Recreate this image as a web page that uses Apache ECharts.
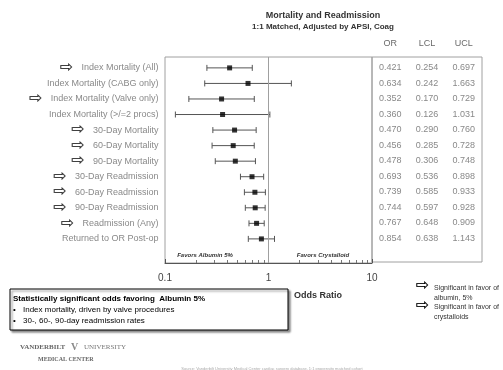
<!DOCTYPE html>
<html>
<head>
<meta charset="utf-8">
<script src="https://cdn.jsdelivr.net/npm/echarts@6/dist/echarts.min.js"></script>
<style>
  html, body { margin: 0; padding: 0; background: #fff; }
  #chart { width: 503px; height: 370px; }
</style>
</head>
<body>
<div id="chart"></div>
<script>
// rows of the forest plot, top to bottom
const rowLabels = [
  'Index Mortality (All)',
  'Index Mortality (CABG only)',
  'Index Mortality (Valve only)',
  'Index Mortality (>/=2 procs)',
  '30-Day Mortality',
  '60-Day Mortality',
  '90-Day Mortality',
  '30-Day Readmission',
  '60-Day Readmission',
  '90-Day Readmission',
  'Readmission (Any)',
  'Returned to OR Post-op'
]
// rows marked with the hollow arrow (significant)
const arrowRows = [true, false, true, false, true, true, true, true, true, true, true, false]

const orValues = [0.421, 0.634, 0.352, 0.360, 0.470, 0.456, 0.478, 0.693, 0.739, 0.744, 0.767, 0.854]
const lclValues = [0.254, 0.242, 0.170, 0.126, 0.290, 0.285, 0.306, 0.536, 0.585, 0.597, 0.648, 0.638]
const uclValues = [0.697, 1.663, 0.729, 1.031, 0.760, 0.728, 0.748, 0.898, 0.933, 0.928, 0.909, 1.143]

const tableColumns = ['OR', 'LCL', 'UCL']
const refValue = 1

const ARROW = '\u21E8'
const grayText = '#6a6a6a'
const sans = 'Liberation Sans'

const chart = echarts.init(document.getElementById('chart'))

// y range shared by plot and table so rows line up
const yRange = { min: -0.7, max: 12.55 }

//表格数据 [col, row, value]
const tableData = []
rowLabels.forEach((_, i) => {
  tableData.push([0, i, orValues[i]])
  tableData.push([1, i, lclValues[i]])
  tableData.push([2, i, uclValues[i]])
})

const arrowStyle = { font: '16px DejaVu Sans', fill: '#000', stroke: '#000', lineWidth: 0.2, verticalAlign: 'middle' }

const option = {
  animation: false,
  backgroundColor: '#fff',
  grid: [
    { left: 165, top: 57, width: 207, height: 206, show: true, borderColor: '#a0a0a0', borderWidth: 1 },
    { left: 372, top: 57, width: 110, height: 205, show: true, borderColor: '#a0a0a0', borderWidth: 1 }
  ],
  xAxis: [
    {
      type: 'log',
      logBase: 10,
      min: 0.1,
      max: 10,
      gridIndex: 0,
      axisLine: { onZero: false, lineStyle: { color: '#555' } },
      axisTick: { show: true, inside: true, length: 4, lineStyle: { color: '#555' } },
      minorTick: { show: true, splitNumber: 9, length: 3, lineStyle: { color: '#777' } },
      splitLine: { show: false },
      axisLabel: { color: '#444', fontSize: 10, margin: 10, fontFamily: sans }
    },
    {
      type: 'category',
      gridIndex: 1,
      position: 'top',
      data: tableColumns,
      axisLine: { show: false },
      axisTick: { show: false },
      axisLabel: { color: grayText, fontSize: 9, margin: 9, fontFamily: sans }
    }
  ],
  yAxis: [
    { type: 'value', gridIndex: 0, inverse: true, ...yRange, show: false },
    { type: 'value', gridIndex: 1, inverse: true, ...yRange, show: false }
  ],
  series: [
    // row labels, placed at the left edge of the plot
    {
      type: 'scatter',
      xAxisIndex: 0,
      yAxisIndex: 0,
      symbolSize: 1,
      itemStyle: { color: 'transparent' },
      silent: true,
      data: rowLabels.map((_, i) => [0.1, i]),
      label: {
        show: true,
        position: 'left',
        distance: 6,
        formatter: p => {
          const i = p.dataIndex
          const txt = rowLabels[i].replace(/[{}|]/g, '')
          return arrowRows[i] ? `{arr|${ARROW}}{txt|${txt}}` : `{txt|${txt}}`
        },
        rich: {
          arr: { fontSize: 16, color: '#000', textBorderColor: '#000', textBorderWidth: 0.2, fontFamily: 'DejaVu Sans', padding: [0, 8, 0, 0] },
          txt: { fontSize: 9, color: grayText, fontFamily: sans }
        }
      }
    },
    // confidence interval bars
    {
      type: 'custom',
      xAxisIndex: 0,
      yAxisIndex: 0,
      silent: true,
      data: rowLabels.map((_, i) => [i, lclValues[i], uclValues[i]]),
      encode: { x: [1, 2], y: 0 },
      renderItem: (params, api) => {
        const lo = api.coord([api.value(1), api.value(0)])
        const hi = api.coord([api.value(2), api.value(0)])
        const cap = 3
        const style = { stroke: '#555', lineWidth: 1 }
        return {
          type: 'group',
          children: [
            { type: 'line', shape: { x1: lo[0], y1: lo[1], x2: hi[0], y2: hi[1] }, style },
            { type: 'line', shape: { x1: lo[0], y1: lo[1] - cap, x2: lo[0], y2: lo[1] + cap }, style },
            { type: 'line', shape: { x1: hi[0], y1: hi[1] - cap, x2: hi[0], y2: hi[1] + cap }, style }
          ]
        }
      }
    },
    // odds ratio markers
    {
      type: 'scatter',
      xAxisIndex: 0,
      yAxisIndex: 0,
      symbol: 'rect',
      symbolSize: 5,
      itemStyle: { color: '#000' },
      z: 5,
      data: rowLabels.map((_, i) => [orValues[i], i]),
      markLine: {
        silent: true,
        symbol: 'none',
        label: { show: false },
        lineStyle: { color: '#a0a0a0', type: 'solid', width: 1 },
        data: [{ xAxis: refValue }]
      }
    },
    // table values
    {
      type: 'scatter',
      xAxisIndex: 1,
      yAxisIndex: 1,
      symbolSize: 1,
      itemStyle: { color: 'transparent' },
      silent: true,
      data: tableData,
      label: {
        show: true,
        position: 'inside',
        color: grayText,
        fontSize: 9,
        fontFamily: sans,
        formatter: p => p.value[2].toFixed(3)
      }
    }
  ],
  graphic: [
    { type: 'text', x: 323, y: 16, style: { text: 'Mortality and Readmission', align: 'center', verticalAlign: 'middle', font: 'bold 9px Liberation Sans', fill: '#333' } },
    { type: 'text', x: 323, y: 27, style: { text: '1:1 Matched, Adjusted by APSI, Coag', align: 'center', verticalAlign: 'middle', font: 'bold 8px Liberation Sans', fill: '#333' } },
    { type: 'text', x: 205, y: 255, style: { text: 'Favors Albumin 5%', align: 'center', verticalAlign: 'middle', font: 'italic bold 6px Liberation Sans', fill: '#333' } },
    { type: 'text', x: 323, y: 255, style: { text: 'Favors Crystalloid', align: 'center', verticalAlign: 'middle', font: 'italic bold 6px Liberation Sans', fill: '#333' } },
    { type: 'text', x: 318, y: 296, style: { text: 'Odds Ratio', align: 'center', verticalAlign: 'middle', font: 'bold 9px Liberation Sans', fill: '#333' } },

    // legend on the right
    { type: 'text', x: 416, y: 286, style: { text: ARROW, ...arrowStyle } },
    { type: 'text', x: 434, y: 288, style: { text: 'Significant in favor of', verticalAlign: 'middle', font: '7px Liberation Sans', fill: '#333' } },
    { type: 'text', x: 434, y: 298, style: { text: 'albumin, 5%', verticalAlign: 'middle', font: '7px Liberation Sans', fill: '#333' } },
    { type: 'text', x: 416, y: 306, style: { text: ARROW, ...arrowStyle } },
    { type: 'text', x: 434, y: 307, style: { text: 'Significant in favor of', verticalAlign: 'middle', font: '7px Liberation Sans', fill: '#333' } },
    { type: 'text', x: 434, y: 317, style: { text: 'crystalloids', verticalAlign: 'middle', font: '7px Liberation Sans', fill: '#333' } },

    // summary box
    {
      type: 'rect',
      shape: { x: 10, y: 289, width: 278, height: 41 },
      style: { fill: '#fff', stroke: '#000', lineWidth: 1, shadowBlur: 2, shadowOffsetX: 2, shadowOffsetY: 2, shadowColor: 'rgba(0,0,0,0.45)' }
    },
    { type: 'text', x: 13, y: 299, style: { text: 'Statistically significant odds favoring  Albumin 5%', verticalAlign: 'middle', font: 'bold 8px Liberation Sans', fill: '#000' } },
    { type: 'text', x: 13, y: 310, style: { text: '\u2022', verticalAlign: 'middle', font: '8px Liberation Sans', fill: '#000' } },
    { type: 'text', x: 23, y: 310, style: { text: 'Index mortality, driven by valve procedures', verticalAlign: 'middle', font: '8px Liberation Sans', fill: '#000' } },
    { type: 'text', x: 13, y: 321, style: { text: '\u2022', verticalAlign: 'middle', font: '8px Liberation Sans', fill: '#000' } },
    { type: 'text', x: 23, y: 321, style: { text: '30-, 60-, 90-day readmission rates', verticalAlign: 'middle', font: '8px Liberation Sans', fill: '#000' } },

    // logo text
    { type: 'text', x: 20, y: 347, style: { text: 'VANDERBILT', verticalAlign: 'middle', font: 'bold 7px Liberation Serif', fill: '#666' } },
    { type: 'text', x: 71, y: 347, style: { text: 'V', verticalAlign: 'middle', font: 'bold 10px Liberation Serif', fill: '#8a8a8a' } },
    { type: 'text', x: 84, y: 347, style: { text: 'UNIVERSITY', verticalAlign: 'middle', font: '7px Liberation Serif', fill: '#777' } },
    { type: 'text', x: 38, y: 359, style: { text: 'MEDICAL CENTER', verticalAlign: 'middle', font: 'bold 6px Liberation Serif', fill: '#666' } },
    { type: 'text', x: 272, y: 369, style: { text: 'Source: Vanderbilt University Medical Center cardiac surgery database, 1:1 propensity matched cohort', align: 'center', verticalAlign: 'middle', font: '4px Liberation Sans', fill: '#aaa' } }
  ]
}

chart.setOption(option)
</script>
</body>
</html>
